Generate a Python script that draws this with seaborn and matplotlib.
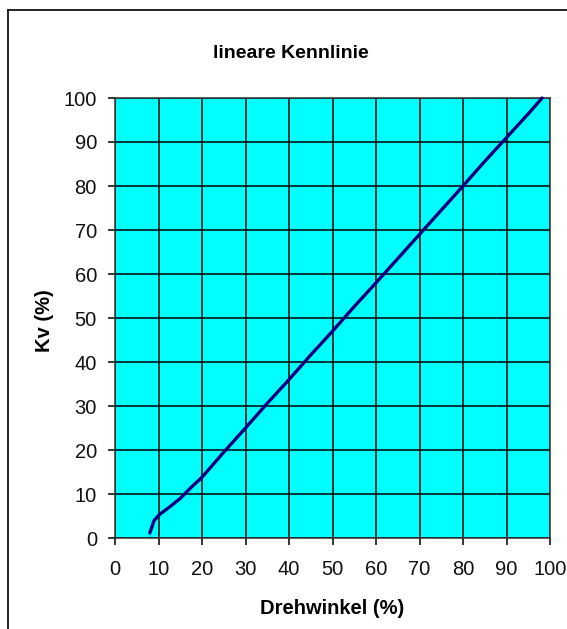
import matplotlib
matplotlib.use("Agg")
import matplotlib.pyplot as plt
import seaborn as sns
import pandas as pd
from matplotlib.lines import Line2D

# Data
drehwinkel = [8.0, 8.0, 9.0, 10.3, 12.5, 15.0, 17.5, 20.0, 25.0, 30.0, 35.0, 40.0, 45.0,
              50.0, 55.0, 60.0, 65.0, 70.0, 75.0, 80.0, 85.0, 90.0, 95.0, 98.2]
kv = [0.0, 2.3, 4.0, 5.4, 7.0, 9.0, 11.5, 13.8, 19.5, 25.0, 30.6, 36.0, 41.6,
      47.0, 52.6, 58.0, 63.5, 69.0, 74.5, 80.0, 85.6, 91.0, 96.4, 100.0]
x_ticks = list(range(0, 101, 10))
y_ticks = list(range(0, 101, 10))

title = "lineare Kennlinie"
xlabel = "Drehwinkel (%)"
ylabel = "Kv (%)"

df = pd.DataFrame({"Drehwinkel": drehwinkel, "Kv": kv})

sns.set_style("white")
plt.rcParams["font.family"] = ["Liberation Sans", "DejaVu Sans"]

W, H = 567, 629
fig = plt.figure(figsize=(W / 100, H / 100), dpi=100)
fig.patch.set_facecolor("white")
ax = fig.add_axes([115 / W, 1 - 538 / H, (550 - 115) / W, (538 - 98) / H])
ax.set_facecolor("#00FFFF")

sns.lineplot(data=df, x="Drehwinkel", y="Kv", sort=False, color="#000080",
             linewidth=2.4, ax=ax, zorder=5, clip_on=False)

ax.set_xlim(0, 100)
ax.set_ylim(0, 100)
ax.set_xticks(x_ticks)
ax.set_yticks(y_ticks)
ax.grid(True, color="black", linewidth=1.1)
ax.set_axisbelow(True)
for s in ax.spines.values():
    s.set_color("#333333")
    s.set_linewidth(1.1)
    s.set_visible(True)

tick_font = {"family": ["Liberation Sans", "DejaVu Sans"], "size": 14.5}
ax.tick_params(axis="both", which="major", direction="out", length=5, width=1.1,
               color="black", bottom=True, left=True)
ax.tick_params(axis="x", pad=11)
ax.tick_params(axis="y", pad=8)
ax.set_xticklabels([str(t) for t in x_ticks], fontdict=tick_font, color="#111111")
ax.set_yticklabels([str(t) for t in y_ticks], fontdict=tick_font, color="#111111")

ax.set_xlabel("")
ax.set_ylabel("")
fig.text(332 / W, 1 - 609 / H, xlabel, ha="center", va="center",
         fontsize=14.5, fontweight="bold", color="black")
fig.text(44 / W, 1 - 321 / H, ylabel, ha="center", va="center", rotation=90,
         fontsize=14.5, fontweight="bold", color="black")
fig.text(291 / W, 1 - 54 / H, title, ha="center", va="center",
         fontsize=14, fontweight="bold", color="black")

# Outer chart-area border
fig.add_artist(Line2D([8 / W, 8 / W], [0, 1 - 10 / H], transform=fig.transFigure,
                      color="black", linewidth=1.2))
fig.add_artist(Line2D([8 / W, 1], [1 - 10 / H, 1 - 10 / H], transform=fig.transFigure,
                      color="black", linewidth=1.2))

fig.savefig("out.png", dpi=100)
